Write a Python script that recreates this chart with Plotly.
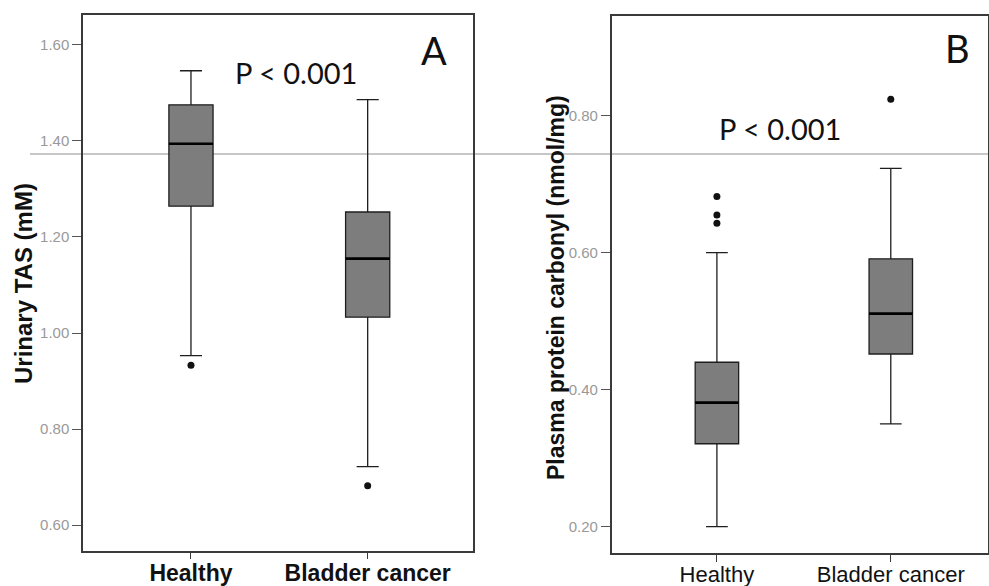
import plotly.graph_objects as go

W, H = 989, 586

categories = ["Healthy", "Bladder cancer"]

# Panel A: Urinary TAS (mM)
a_q1 = [1.264, 1.033]
a_median = [1.394, 1.155]
a_q3 = [1.475, 1.252]
a_lower = [0.953, 0.722]
a_upper = [1.546, 1.486]
a_out_x = ["Healthy", "Bladder cancer"]
a_out_y = [0.933, 0.682]

# Panel B: Plasma protein carbonyl (nmol/mg)
b_q1 = [0.321, 0.452]
b_median = [0.381, 0.511]
b_q3 = [0.440, 0.591]
b_lower = [0.200, 0.350]
b_upper = [0.600, 0.723]
b_out_x = ["Healthy", "Healthy", "Healthy", "Bladder cancer"]
b_out_y = [0.682, 0.655, 0.643, 0.824]

a_ticks = [0.60, 0.80, 1.00, 1.20, 1.40, 1.60]
b_ticks = [0.20, 0.40, 0.60, 0.80]

BOX_W = 0.25


def px(x):
    return x / W


def py(y):
    return 1 - y / H


box_fill = "#7d7d7d"
box_line = "#1e1e1e"

fig = go.Figure()

fig.add_trace(go.Box(
    x=categories, q1=a_q1, median=a_median, q3=a_q3,
    lowerfence=a_lower, upperfence=a_upper,
    xaxis="x", yaxis="y", width=BOX_W, whiskerwidth=0.5,
    fillcolor=box_fill, line=dict(color=box_line, width=1.3),
    boxpoints=False, showlegend=False, hoverinfo="skip",
))
fig.add_trace(go.Scatter(
    x=a_out_x, y=a_out_y, mode="markers", xaxis="x", yaxis="y",
    marker=dict(color="#111", size=7), showlegend=False, hoverinfo="skip",
))
fig.add_trace(go.Box(
    x=categories, q1=b_q1, median=b_median, q3=b_q3,
    lowerfence=b_lower, upperfence=b_upper,
    xaxis="x2", yaxis="y2", width=BOX_W, whiskerwidth=0.5,
    fillcolor=box_fill, line=dict(color=box_line, width=1.3),
    boxpoints=False, showlegend=False, hoverinfo="skip",
))
fig.add_trace(go.Scatter(
    x=b_out_x, y=b_out_y, mode="markers", xaxis="x2", yaxis="y2",
    marker=dict(color="#111", size=7), showlegend=False, hoverinfo="skip",
))

# thicker black median lines, drawn from the median arrays
for xr, yr, meds in (("x", "y", a_median), ("x2", "y2", b_median)):
    for i, m in enumerate(meds):
        fig.add_shape(type="line", xref=xr, yref=yr,
                      x0=i - BOX_W / 2, x1=i + BOX_W / 2, y0=m, y1=m,
                      line=dict(color="#000", width=2.6), layer="above")

frame = dict(showline=True, linecolor="#3a3a3a", linewidth=1.5, mirror=True,
             showgrid=False, zeroline=False, automargin=False)

fig.update_layout(
    template="none",
    width=W, height=H,
    margin=dict(l=0, r=0, t=0, b=0, autoexpand=False),
    paper_bgcolor="white", plot_bgcolor="white",
    font=dict(family="Liberation Sans, Arial, sans-serif", color="#111"),
    xaxis=dict(domain=[px(83), px(473)], type="category",
               categoryorder="array", categoryarray=categories,
               range=[-0.611, 1.596], anchor="y",
               ticks="outside", ticklen=7, tickcolor="#3a3a3a",
               ticklabelstandoff=-6,
               tickfont=dict(size=23, weight="bold", color="#111"), **frame),
    yaxis=dict(domain=[py(550.7), py(15)], range=[0.547, 1.662], anchor="x",
               tickvals=a_ticks, ticktext=[f"{v:.2f}" for v in a_ticks],
               ticks="outside", ticklen=9, tickcolor="#555",
               tickfont=dict(size=15, color="#999999"), **frame),
    xaxis2=dict(domain=[px(611.7), px(988)], type="category",
                categoryorder="array", categoryarray=categories,
                range=[-0.605, 1.559], anchor="y2",
                ticks="outside", ticklen=7, tickcolor="#3a3a3a",
                ticklabelstandoff=-6,
                tickfont=dict(size=22, color="#111"), **frame),
    yaxis2=dict(domain=[py(553.3), py(15.7)], range=[0.161, 0.946], anchor="x2",
                tickvals=b_ticks, ticktext=[f"{v:.2f}" for v in b_ticks],
                ticks="outside", ticklen=9, tickcolor="#555",
                tickfont=dict(size=15, color="#999999"), **frame),
)

annotations = [
    dict(text="Urinary TAS (mM)", x=px(23), y=py(284), textangle=-90,
         font=dict(size=24, weight="bold", color="#111")),
    dict(text="Plasma protein carbonyl (nmol/mg)", x=px(556), y=py(288), textangle=-90,
         font=dict(size=23, weight="bold", color="#111")),
    dict(text="P < 0.001", x=px(296), y=py(72),
         font=dict(size=29, family="Lato, Open Sans, sans-serif", color="#111")),
    dict(text="P < 0.001", x=px(780), y=py(128),
         font=dict(size=29, family="Lato, Open Sans, sans-serif", color="#111")),
    dict(text="A", x=px(434), y=py(50),
         font=dict(size=38, family="Lato, Open Sans, sans-serif", color="#111")),
    dict(text="B", x=px(957), y=py(48),
         font=dict(size=38, family="Lato, Open Sans, sans-serif", color="#111")),
]
for a in annotations:
    a.update(xref="paper", yref="paper", showarrow=False, xanchor="center", yanchor="middle")
fig.update_layout(annotations=annotations)

# faint horizontal scan line visible across the reference image
fig.add_shape(type="line", xref="paper", yref="paper",
              x0=px(30), x1=1, y0=py(154), y1=py(154),
              line=dict(color="#b5b5b5", width=1.5), layer="below")

fig.write_html("out.html")
